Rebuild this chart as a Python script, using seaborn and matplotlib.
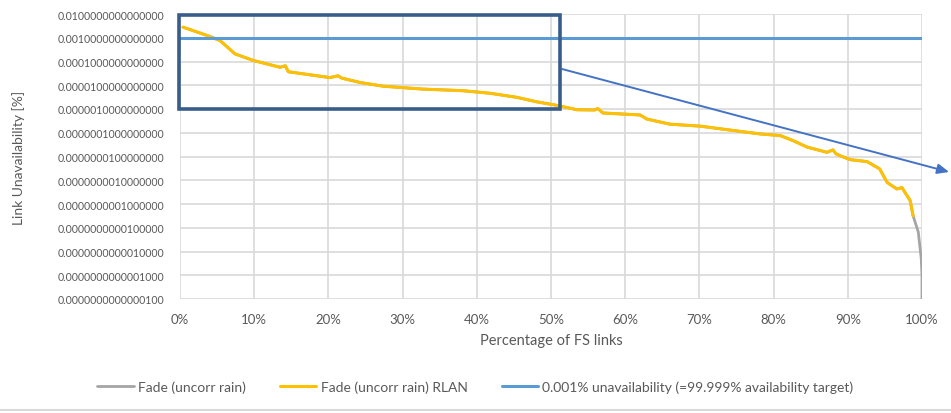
import numpy as np
import pandas as pd
import matplotlib
matplotlib.use('Agg')
import matplotlib.pyplot as plt
import matplotlib.ticker as mticker
from matplotlib.patches import Rectangle
from matplotlib.lines import Line2D
import seaborn as sns

# --- datos ---
pct_links = [0.4, 3.8, 5.4, 7.4, 9.9, 13.5, 14.2, 14.6, 20.2, 21.3, 21.8, 24.3, 27.4,
             32.7, 38.1, 41.8, 45.4, 48.1, 50.9, 53.5, 55.9, 56.3, 57.0, 62.0, 62.9,
             66.0, 70.1, 73.7, 78.2, 80.9, 82.6, 84.5, 87.2, 88.0, 88.4, 88.9, 90.3,
             92.6, 94.3, 95.3, 96.6, 97.3, 98.0, 98.4, 98.8]
unavail_rlan = [2.8e-3, 1.2e-3, 7.6e-4, 2.1e-4, 1.1e-4, 5.7e-5, 6.6e-5, 3.7e-5, 2.1e-5,
                2.5e-5, 2.0e-5, 1.3e-5, 9.1e-6, 6.9e-6, 5.9e-6, 4.6e-6, 3.1e-6, 2.0e-6,
                1.4e-6, 9.3e-7, 9.1e-7, 1.05e-6, 6.8e-7, 5.6e-7, 3.8e-7, 2.3e-7, 1.9e-7,
                1.35e-7, 8.9e-8, 7.6e-8, 4.7e-8, 2.5e-8, 1.5e-8, 1.9e-8, 1.3e-8, 1.1e-8,
                7.4e-9, 6.1e-9, 3.0e-9, 8.1e-10, 4.3e-10, 4.9e-10, 2.2e-10, 1.4e-10, 3.2e-11]
# cola de la serie gris (sin RLAN) que cae hasta el 100 %
pct_tail = [99.5, 99.9, 100.0, 100.0]
unavail_tail = [6.6e-12, 5.0e-13, 9.5e-14, 5.0e-15]
target = 1e-3

x_ticks = [0, 10, 20, 30, 40, 50, 60, 70, 80, 90, 100]
y_ticks = [10.0 ** -k for k in range(2, 15)]

lbl_grey = 'Fade (uncorr rain)'
lbl_yellow = 'Fade (uncorr rain) RLAN'
lbl_blue = '0.001% unavailability (=99.999% availability target)'

df_grey = pd.DataFrame({'pct': pct_links + pct_tail, 'u': unavail_rlan + unavail_tail})
df_yellow = pd.DataFrame({'pct': pct_links, 'u': unavail_rlan})

# =====================================================================
sns.set_style('white')
plt.rcParams['font.family'] = ['Lato', 'DejaVu Sans']
txt = '#595959'
grid_c = '#D9D9D9'

fig = plt.figure(figsize=(9.51, 4.14), dpi=100)
ax = fig.add_axes([180 / 951, 1 - 300 / 414, 742 / 951, 285 / 414])

sns.lineplot(data=df_grey, x='pct', y='u', ax=ax, color='#A5A5A5', lw=2.0,
             label=lbl_grey, sort=False, estimator=None)
sns.lineplot(data=df_yellow, x='pct', y='u', ax=ax, color='#FFC000', lw=2.2,
             label=lbl_yellow, sort=False, estimator=None)
ax.axhline(target, color='#5B9BD5', lw=2.2, label=lbl_blue)

ax.set_yscale('log')
ax.set_xlim(0, 100)
ax.set_ylim(1e-14, 1e-2)
ax.set_xticks(x_ticks)
ax.set_yticks(y_ticks)
ax.yaxis.set_minor_locator(mticker.NullLocator())
ax.xaxis.set_major_formatter(mticker.FuncFormatter(lambda v, p: f'{v:.0f}%'))
ax.yaxis.set_major_formatter(mticker.FuncFormatter(lambda v, p: f'{v:.16f}'))
ax.tick_params(axis='x', length=0, labelsize=9.5, labelcolor=txt, pad=10)
ax.tick_params(axis='y', length=0, labelsize=7.6, labelcolor=txt, pad=11)
ax.grid(True, color=grid_c, lw=1.2)
ax.set_axisbelow(True)
for s in ax.spines.values():
    s.set_visible(False)

ax.set_xlabel('Percentage of FS links', fontsize=10.5, color=txt, labelpad=6)
ax.set_ylabel('Link Unavailability [%]', fontsize=10, color=txt)
ax.yaxis.set_label_coords(-0.209, 0.5)

# recuadro de zoom y flecha
ax.add_patch(Rectangle((-0.0015, 0.667), 0.514, 0.33, transform=ax.transAxes,
                       fill=False, ec='#385D8A', lw=2.6, clip_on=False, zorder=5))
fig.add_artist(Line2D([0, 1], [0.007, 0.007], color=grid_c, lw=1.5))
ax.annotate('', xy=(0.998, 1 - 173 / 414), xycoords='figure fraction',
            xytext=(562 / 951, 1 - 70 / 414), textcoords='figure fraction',
            arrowprops=dict(arrowstyle='-|>,head_length=0.7,head_width=0.3',
                            color='#4472C4', lw=1.4, shrinkA=0, shrinkB=0))

leg = ax.legend(loc='center', bbox_to_anchor=(0.5, 1 - 388 / 414), bbox_transform=fig.transFigure,
                ncol=3, frameon=False, fontsize=10, handlelength=2.6, handletextpad=0.3,
                columnspacing=2.5)
for t in leg.get_texts():
    t.set_color(txt)

fig.savefig('out.png', dpi=100)
